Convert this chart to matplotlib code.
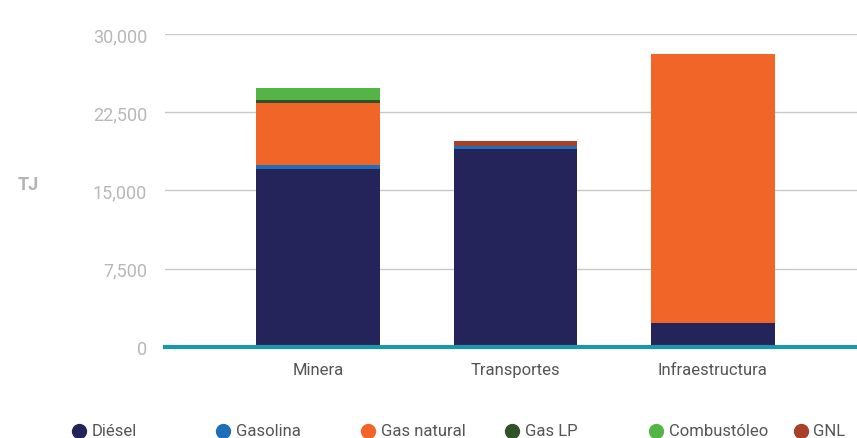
import numpy as np
import matplotlib
matplotlib.use('Agg')
import matplotlib.pyplot as plt
from matplotlib.lines import Line2D
from matplotlib.ticker import FuncFormatter

plt.rcParams['font.family'] = ['Roboto', 'DejaVu Sans']

sectores = ['Minera', 'Transportes', 'Infraestructura']
combustibles = ['Diésel', 'Gasolina', 'Gas natural', 'Gas LP', 'Combustóleo', 'GNL']
colores = ['#24245a', '#1f6fb8', '#f26529', '#2f5227', '#55b447', '#a8402a']

diesel = [17050, 19000, 2300]
gasolina = [400, 300, 0]
gas_natural = [5950, 0, 25800]
gas_lp = [300, 0, 0]
combustoleo = [1150, 0, 0]
gnl = [0, 450, 0]

series = [diesel, gasolina, gas_natural, gas_lp, combustoleo, gnl]
yticks = [0, 7500, 15000, 22500, 30000]

fig = plt.figure(figsize=(8.57, 4.39), dpi=100)
ax = fig.add_axes([0.1925, 0.2073, 0.8075, 0.7130])

x = np.arange(len(sectores))
base = np.zeros(len(sectores))
for vals, col, nom in zip(series, colores, combustibles):
    ax.bar(x, vals, 0.625, bottom=base, color=col, label=nom, zorder=2)
    base += np.array(vals)

ax.set_xlim(-0.775, 2.73)
ax.set_ylim(0, 30000)
ax.set_yticks(yticks)
ax.yaxis.set_major_formatter(FuncFormatter(lambda v, p: '{:,.0f}'.format(v)))
ax.set_xticks(x)
ax.set_xticklabels(sectores)
ax.tick_params(axis='y', length=0, pad=13, labelsize=13, labelcolor='#b8b8b8')
ax.tick_params(axis='x', length=0, pad=11, labelsize=12, labelcolor='#555555')
ax.grid(axis='y', color='#c8c8c8', linewidth=1, zorder=0)
for s in ['top', 'right', 'left']:
    ax.spines[s].set_visible(False)
ax.spines['bottom'].set_color('#1a98a8')
ax.spines['bottom'].set_linewidth(3)
ax.spines['bottom'].set_zorder(3)

fig.text(28 / 857, 1 - 185 / 439, 'TJ', ha='center', va='center',
         fontsize=13, fontweight='bold', color='#b4b4b4')

# leyenda con espaciado fijo
for i, (nom, col) in enumerate(zip(combustibles, colores)):
    xm = (79 + 144.3 * i) / 857
    ym = 1 - 432 / 439
    fig.add_artist(Line2D([xm], [ym], marker='o', markersize=10, color=col,
                          linestyle='none', transform=fig.transFigure))
    fig.text(xm + 13 / 857, ym, nom, ha='left', va='center', fontsize=12,
             color='#555555')

fig.savefig('out.png', dpi=100)
